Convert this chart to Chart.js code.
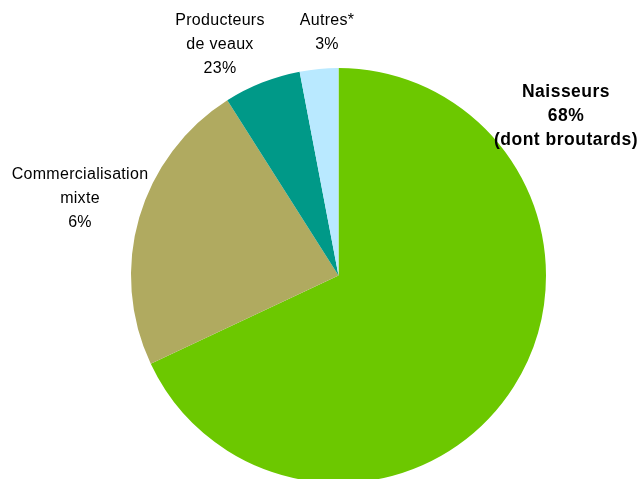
<!DOCTYPE html>
<html lang="fr">
<head>
<meta charset="utf-8">
<title>Répartition des élevages</title>
<script src="https://cdn.jsdelivr.net/npm/chart.js@4.4.1/dist/chart.umd.min.js"></script>
<style>
    html, body { margin: 0; padding: 0; background: #fff; overflow: hidden; }
    .chart-container { position: relative; width: 642px; height: 484px; }
</style>
</head>
<body>
<div class="chart-container">
    <canvas id="pieChart"></canvas>
</div>
<script>
const categories = ['Naisseurs', 'Producteurs de veaux', 'Commercialisation mixte', 'Autres*'];
const shares = [68, 23, 6, 3];
const sliceColors = ['#6cc800', '#b0aa60', '#009988', '#b9e9ff'];

// text lines under each category, the share is appended as "NN%"
const labelLines = [
    ['Naisseurs', '{v}%', '(dont broutards)'],
    ['Producteurs', 'de veaux', '{v}%'],
    ['Commercialisation', 'mixte', '{v}%'],
    ['Autres*', '{v}%']
];

// where each label block sits (centre of first line) and whether it is bold
const labelPlacement = [
    { x: 566, y: 92, bold: true },
    { x: 220, y: 21, bold: false },
    { x: 80, y: 175, bold: false },
    { x: 327, y: 21, bold: false }
];

const sliceLabels = {
    id: 'sliceLabels',
    afterDraw(chart) {
        const { ctx } = chart;
        const values = chart.data.datasets[0].data;
        ctx.save();
        ctx.fillStyle = '#000';
        ctx.textAlign = 'center';
        ctx.textBaseline = 'middle';
        labelLines.forEach((lines, i) => {
            const pos = labelPlacement[i];
            if (pos.bold) {
                ctx.font = 'bold 17.5px "Liberation Sans", Arial, sans-serif';
                ctx.letterSpacing = '0.5px';
            } else {
                ctx.font = '16px "Liberation Sans", Arial, sans-serif';
                ctx.letterSpacing = '0.3px';
            }
            lines.forEach((line, j) => {
                ctx.fillText(line.replace('{v}', values[i]), pos.x, pos.y + j * 24);
            });
        });
        ctx.restore();
    }
};

new Chart(document.getElementById('pieChart'), {
    type: 'pie',
    data: {
        labels: categories,
        datasets: [{
            data: shares,
            backgroundColor: sliceColors,
            borderWidth: 0
        }]
    },
    options: {
        responsive: true,
        maintainAspectRatio: false,
        animation: false,
        layout: { padding: { left: 131, right: 96, top: 68, bottom: 1 } },
        plugins: {
            legend: { display: false },
            tooltip: { enabled: false }
        }
    },
    plugins: [sliceLabels]
});
</script>
</body>
</html>
